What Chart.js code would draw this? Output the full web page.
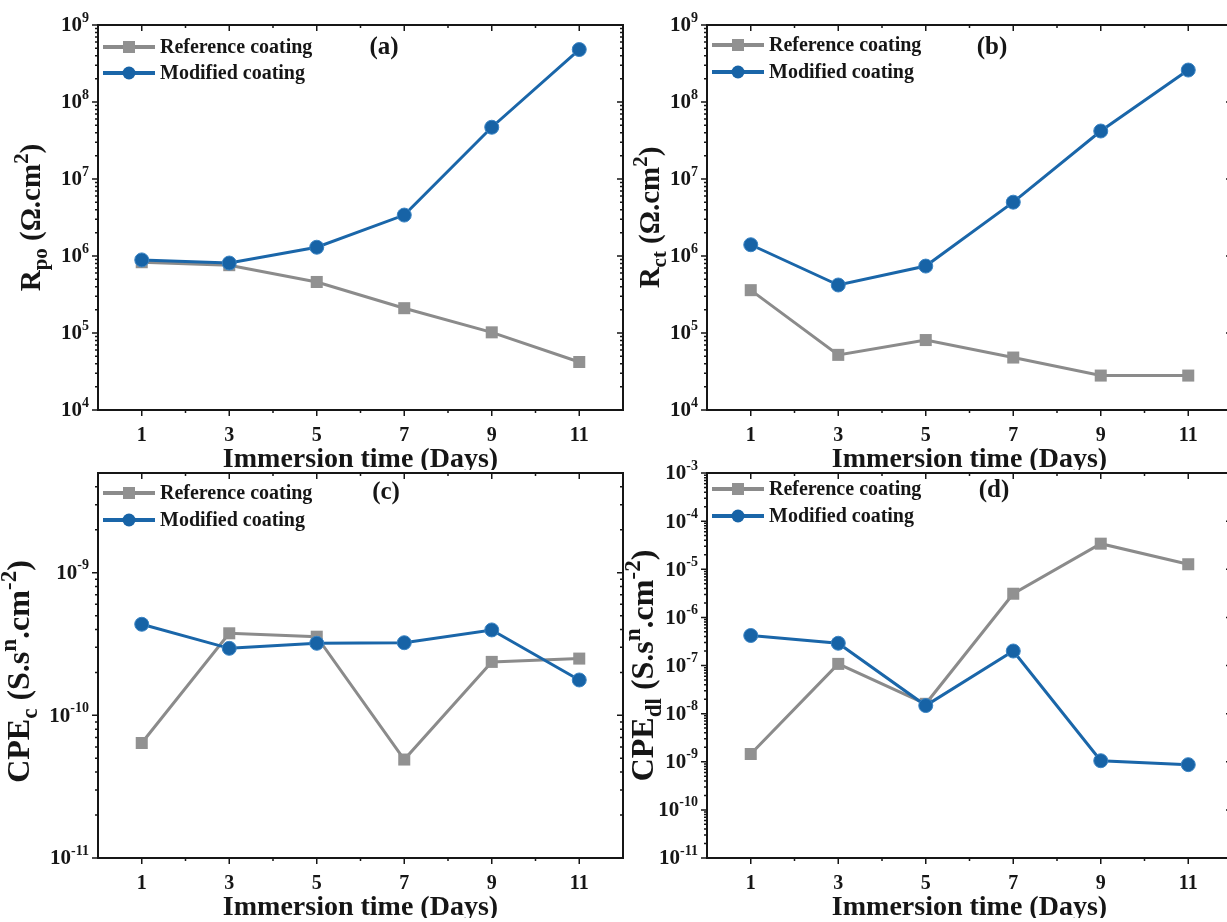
<!DOCTYPE html>
<html>
<head>
<meta charset="utf-8">
<script src="https://cdn.jsdelivr.net/npm/chart.js@4.4.0/dist/chart.umd.min.js"></script>
<style>
    html, body { margin: 0; padding: 0; background: #fff; overflow: hidden; }
    body { width: 1227px; height: 922px; position: relative; }
    canvas { position: absolute; }
</style>
</head>
<body>
<canvas id="chartA" width="640" height="470" style="left:0;top:0"></canvas>
<canvas id="chartB" width="640" height="470" style="left:609px;top:0"></canvas>
<canvas id="chartC" width="640" height="470" style="left:0;top:448px"></canvas>
<canvas id="chartD" width="640" height="470" style="left:609px;top:448px"></canvas>
<script>
// data
const days = [1, 3, 5, 7, 9, 11];
const xTicks = [1, 3, 5, 7, 9, 11];
const xMinorTicks = [2, 4, 6, 8, 10];
const seriesLabels = ['Reference coating', 'Modified coating'];

const rpoReference = [8.3e5, 7.6e5, 4.6e5, 2.1e5, 1.02e5, 4.2e4];
const rpoModified = [8.9e5, 8.1e5, 1.3e6, 3.4e6, 4.7e7, 4.8e8];
const rctReference = [3.6e5, 5.2e4, 8.1e4, 4.8e4, 2.8e4, 2.8e4];
const rctModified = [1.4e6, 4.2e5, 7.4e5, 5.0e6, 4.2e7, 2.6e8];
const cpecReference = [6.4e-11, 3.76e-10, 3.56e-10, 4.9e-11, 2.37e-10, 2.5e-10];
const cpecModified = [4.35e-10, 2.95e-10, 3.2e-10, 3.23e-10, 3.97e-10, 1.77e-10];
const cpedlReference = [1.45e-9, 1.08e-7, 1.6e-8, 3.1e-6, 3.4e-5, 1.27e-5];
const cpedlModified = [4.2e-7, 2.9e-7, 1.47e-8, 2.0e-7, 1.05e-9, 8.7e-10];

const resistanceTicks = [1e4, 1e5, 1e6, 1e7, 1e8, 1e9];
const cpecTicks = [1e-11, 1e-10, 1e-9];
const cpedlTicks = [1e-11, 1e-10, 1e-9, 1e-8, 1e-7, 1e-6, 1e-5, 1e-4, 1e-3];

const FONT = "'Liberation Serif', 'Times New Roman', serif";
const GRAY = '#8b8b8b';
const BLUE = '#1a66a9';
const INK = '#161616';

// text with sub / superscript parts, centred on the origin
function drawRich(ctx, parts, size) {
    let total = 0;
    parts.forEach(p => {
        let s = p.s ? size * 0.72 : size;
        ctx.font = 'bold ' + s + 'px ' + FONT;
        p.w = ctx.measureText(p.t).width;
        total += p.w;
    });
    let x = -total / 2;
    parts.forEach(p => {
        let s = p.s ? size * 0.72 : size;
        ctx.font = 'bold ' + s + 'px ' + FONT;
        let dy = p.s === 'sub' ? size * 0.24 : (p.s === 'sup' ? -size * 0.4 : 0);
        ctx.fillText(p.t, x, dy);
        x += p.w;
    });
}

// "10" with a raised exponent, right edge at xr
function drawPower(ctx, v, xr, y) {
    let e = String(Math.round(Math.log10(v)));
    ctx.textBaseline = 'middle';
    ctx.textAlign = 'left';
    ctx.font = 'bold 14px ' + FONT;
    let we = ctx.measureText(e).width;
    ctx.font = 'bold 21px ' + FONT;
    let wb = ctx.measureText('10').width;
    ctx.fillText('10', xr - we - wb, y + 1);
    ctx.font = 'bold 14px ' + FONT;
    ctx.fillText(e, xr - we, y - 7);
}

const panelDecor = {
    id: 'panelDecor',
    afterDraw(chart, args, opts) {
        let ctx = chart.ctx;
        let a = chart.chartArea;
        let xs = chart.scales.x, ys = chart.scales.y;
        ctx.save();
        ctx.strokeStyle = INK;
        ctx.fillStyle = INK;

        // frame
        ctx.lineWidth = 2;
        ctx.strokeRect(a.left, a.top, a.right - a.left, a.bottom - a.top);

        // tick marks: out on bottom/left, in on top/right
        ctx.lineWidth = 1.5;
        ctx.beginPath();
        function xTick(v, len) {
            let px = xs.getPixelForValue(v);
            ctx.moveTo(px, a.bottom); ctx.lineTo(px, a.bottom + len);
            ctx.moveTo(px, a.top); ctx.lineTo(px, a.top + len);
        }
        function yTick(v, len) {
            let py = ys.getPixelForValue(v);
            ctx.moveTo(a.left, py); ctx.lineTo(a.left - len, py);
            ctx.moveTo(a.right, py); ctx.lineTo(a.right - len, py);
        }
        xTicks.forEach(v => xTick(v, 6));
        xMinorTicks.forEach(v => xTick(v, 3));
        let lo = Math.floor(Math.log10(ys.min)), hi = Math.ceil(Math.log10(ys.max));
        for (let e = lo; e <= hi; e++) {
            let base = Math.pow(10, e);
            if (base >= ys.min * 0.999 && base <= ys.max * 1.001) yTick(base, 6);
            for (let k = 2; k <= 9; k++) {
                let v = k * base;
                if (v > ys.min && v < ys.max * 0.999) yTick(v, 3);
            }
        }
        ctx.stroke();

        // y tick labels at the scale's ticks
        ys.ticks.forEach(t => drawPower(ctx, t.value, a.left - 9, ys.getPixelForValue(t.value)));

        // legend
        ctx.textBaseline = 'middle';
        ctx.textAlign = 'left';
        chart.data.datasets.forEach((ds, i) => {
            let y = a.top + opts.legendRows[i];
            let x0 = a.left + 5, x1 = a.left + 57, xm = (x0 + x1) / 2;
            ctx.strokeStyle = ds.borderColor;
            ctx.lineWidth = 4;
            ctx.beginPath(); ctx.moveTo(x0, y); ctx.lineTo(x1, y); ctx.stroke();
            ctx.fillStyle = ds.pointBackgroundColor;
            ctx.beginPath();
            if (ds.pointStyle === 'rect') ctx.rect(xm - 6, y - 6, 12, 12);
            else ctx.arc(xm, y, 6.5, 0, Math.PI * 2);
            ctx.fill();
            ctx.fillStyle = INK;
            ctx.font = 'bold 20px ' + FONT;
            ctx.fillText(ds.label, x1 + 5, y + 1);
        });

        // panel tag
        ctx.textAlign = 'center';
        ctx.font = 'bold 25px ' + FONT;
        ctx.fillText(opts.tag, a.left + opts.tagX, a.top + opts.tagY);

        // x title
        ctx.textBaseline = 'middle';
        ctx.textAlign = 'left';
        ctx.save();
        ctx.translate((a.left + a.right) / 2, a.bottom + 50);
        drawRich(ctx, [{t: 'Immersion time (Days)'}], 28);
        ctx.restore();

        // y title
        ctx.textBaseline = 'alphabetic';
        ctx.save();
        ctx.translate(opts.titleX, (a.top + a.bottom) / 2 + opts.titleShift);
        ctx.rotate(-Math.PI / 2);
        drawRich(ctx, opts.title, opts.titleSize);
        ctx.restore();

        ctx.restore();
    }
};

function makeChart(id, ref, mod, yMin, yMax, yTicks, decor) {
    new Chart(document.getElementById(id), {
        type: 'line',
        data: {
            datasets: [
                {
                    label: seriesLabels[0], order: 1,
                    data: days.map((d, i) => ({x: d, y: ref[i]})),
                    borderColor: GRAY, backgroundColor: GRAY, borderWidth: 3,
                    pointStyle: 'rect', pointRadius: 8.5, pointBackgroundColor: '#919191', pointBorderColor: '#919191', pointBorderWidth: 0
                },
                {
                    label: seriesLabels[1], order: 0,
                    data: days.map((d, i) => ({x: d, y: mod[i]})),
                    borderColor: BLUE, backgroundColor: BLUE, borderWidth: 3,
                    pointStyle: 'circle', pointRadius: 7, pointBackgroundColor: '#1763a6', pointBorderColor: '#3a84c4', pointBorderWidth: 1
                }
            ]
        },
        options: {
            responsive: false,
            animation: false,
            events: [],
            layout: {padding: {top: 25, right: 17, left: 0, bottom: 0}},
            plugins: {legend: {display: false}, tooltip: {enabled: false}, panelDecor: decor},
            scales: {
                x: {
                    type: 'linear', min: 0, max: 12,
                    grid: {display: false, drawTicks: false}, border: {display: false},
                    afterBuildTicks: s => { s.ticks = xTicks.map(v => ({value: v})); },
                    afterFit: s => { s.height = 60; },
                    ticks: {padding: 14, color: INK, maxRotation: 0, autoSkip: false, font: {family: FONT, size: 20, weight: 'bold'}}
                },
                y: {
                    type: 'logarithmic', min: yMin, max: yMax,
                    grid: {display: false, drawTicks: false}, border: {display: false},
                    afterBuildTicks: s => { s.ticks = yTicks.map(v => ({value: v})); },
                    afterFit: s => { s.width = 98; },
                    ticks: {display: false}
                }
            }
        },
        plugins: [panelDecor]
    });
}

makeChart('chartA', rpoReference, rpoModified, 1e4, 1e9, resistanceTicks, {
    tag: '(a)', tagX: 286, tagY: 23, legendRows: [22, 48], titleX: 40, titleShift: 0, titleSize: 29,
    title: [{t: 'R'}, {t: 'po', s: 'sub'}, {t: ' (Ω.cm'}, {t: '2', s: 'sup'}, {t: ')'}]
});
makeChart('chartB', rctReference, rctModified, 1e4, 1e9, resistanceTicks, {
    tag: '(b)', tagX: 285, tagY: 23, legendRows: [20, 47], titleX: 50, titleShift: 0, titleSize: 29,
    title: [{t: 'R'}, {t: 'ct', s: 'sub'}, {t: ' (Ω.cm'}, {t: '2', s: 'sup'}, {t: ')'}]
});
makeChart('chartC', cpecReference, cpecModified, 1e-11, 5e-9, cpecTicks, {
    tag: '(c)', tagX: 288, tagY: 20, legendRows: [20, 47], titleX: 29, titleShift: 6, titleSize: 32,
    title: [{t: 'CPE'}, {t: 'c', s: 'sub'}, {t: ' (S.s'}, {t: 'n', s: 'sup'}, {t: '.cm'}, {t: '-2', s: 'sup'}, {t: ')'}]
});
makeChart('chartD', cpedlReference, cpedlModified, 1e-11, 1e-3, cpedlTicks, {
    tag: '(d)', tagX: 287, tagY: 18, legendRows: [16, 43], titleX: 44, titleShift: 0, titleSize: 32,
    title: [{t: 'CPE'}, {t: 'dl', s: 'sub'}, {t: ' (S.s'}, {t: 'n', s: 'sup'}, {t: '.cm'}, {t: '-2', s: 'sup'}, {t: ')'}]
});
</script>
</body>
</html>
